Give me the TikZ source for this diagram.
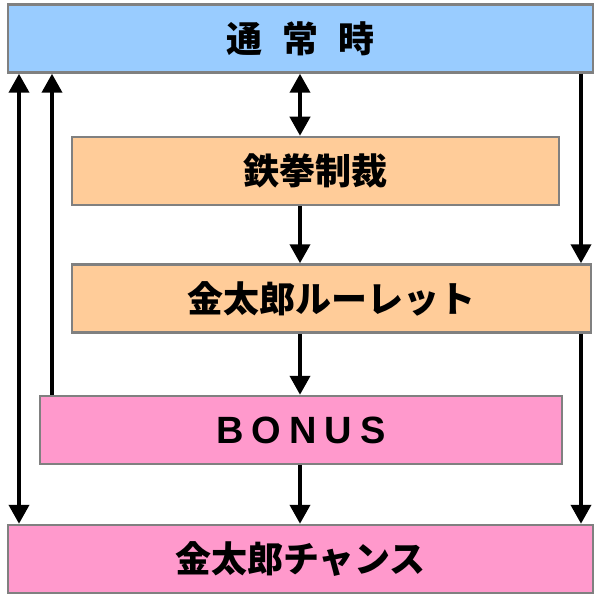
\documentclass[tikz,border=0pt]{standalone}
\usepackage{fontspec}
\usepackage{xcolor}
\usepackage{tikz}
\usetikzlibrary{arrows.meta,positioning}
\newfontfamily\jp{Noto Sans CJK JP}
\newfontfamily\latin{Liberation Sans}
\definecolor{normalblue}{HTML}{99CCFF}
\definecolor{peach}{HTML}{FFCC99}
\definecolor{bonuspink}{HTML}{FF99CC}
\definecolor{edgegray}{HTML}{808080}
\tikzset{>={Triangle[length=19pt,width=20pt]}}

\begin{document}
\begin{tikzpicture}[x=1pt, y=-1pt,
    box/.style={draw=edgegray, line width=2.5pt, minimum height=68pt,
      inner sep=0pt, font=\jp\bfseries\fontsize{36}{40}\selectfont},
    flow/.style={->, line width=4pt}]
  \useasboundingbox (0,0) rectangle (600,599);

  % Boxes
  \node[box,fill=normalblue,minimum width=585pt] (tsujo) at (300.5,38.5)
       {通\hspace{20pt}常\hspace{20pt}時};
  \node[box,fill=peach,minimum width=487pt] (tekken) at (315.5,171) {鉄拳制裁};
  \node[box,fill=peach,minimum width=519pt] (roulette) at (331.5,298.5) {金太郎ルーレット};
  \node[box,fill=bonuspink,minimum width=522pt] (bonus) at (301,430)
       {\latin\bfseries\fontsize{38}{40}\selectfont B\kern8pt O\kern8pt N\kern8pt U\kern8pt S};
  \node[box,fill=bonuspink,minimum width=585pt] (chance) at (300.5,559) {金太郎チャンス};

  % Lanes for the connectors
  \coordinate (mid) at (300,0);
  \coordinate (rgt) at (581,0);
  \coordinate (lft) at (19,0);
  \coordinate (back) at (52,0);

  % Connectors
  \draw[flow,<->] (tsujo.south -| mid) -- (tekken.north -| mid);
  \draw[flow] (tekken.south -| mid) -- (roulette.north -| mid);
  \draw[flow] (roulette.south -| mid) -- (bonus.north -| mid);
  \draw[flow] (bonus.south -| mid) -- (chance.north -| mid);
  \draw[flow] (tsujo.south -| rgt) -- (roulette.north -| rgt);
  \draw[flow] (roulette.south -| rgt) -- (chance.north -| rgt);
  \draw[flow] (bonus.north -| back) -- (tsujo.south -| back);
  \draw[flow,<->] (tsujo.south -| lft) -- (chance.north -| lft);
\end{tikzpicture}
\end{document}
